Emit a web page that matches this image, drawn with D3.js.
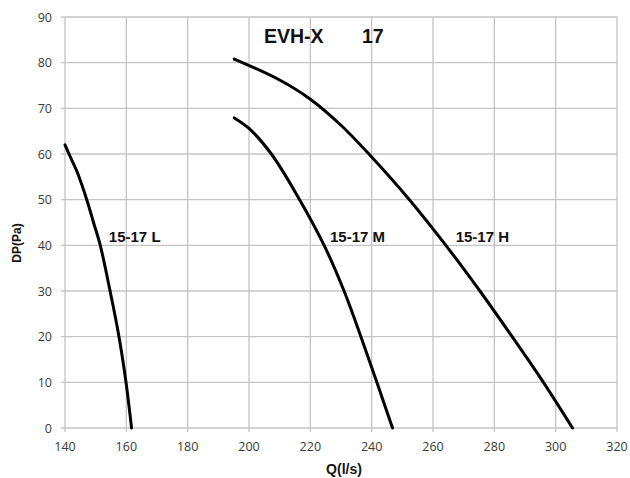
<!DOCTYPE html>
<html>
<head>
<meta charset="utf-8">
<script src="https://cdn.jsdelivr.net/npm/d3@7"></script>
<style>
  body { margin: 0; background: #fff; }
  svg text { font-family: "Liberation Sans", Arial, sans-serif; }
</style>
</head>
<body>
<div id="viz"></div>
<script>
var width = 630;
var height = 478;

var margin = { left: 65, right: 13, top: 17, bottom: 50 };

// data
var xTicks = [140, 160, 180, 200, 220, 240, 260, 280, 300, 320];
var yTicks = [0, 10, 20, 30, 40, 50, 60, 70, 80, 90];

var curveL = [[140, 62], [141.3, 60], [144, 56], [147.1, 50], [149.3, 45], [151.5, 40],
  [154.7, 30], [157.6, 20], [159.9, 10], [161.7, 0]];
var curveM = [[195.2, 67.9], [200, 65.6], [207.3, 60], [216.5, 50], [224.5, 40],
  [231, 30], [236.5, 20], [241.7, 10], [246.8, 0]];
var curveH = [[195.2, 80.8], [210, 76.2], [220, 72], [230, 66.3], [239.1, 60],
  [252.3, 50], [264.2, 40], [275.3, 30], [285.8, 20], [296, 10], [305.5, 0]];

var labels = [
  { text: '15-17 L', q: 154.3, p: 40.8 },
  { text: '15-17 M', q: 226.4, p: 40.8 },
  { text: '15-17 H', q: 267.4, p: 40.8 }
];

var x = d3.scaleLinear().domain([140, 320]).range([margin.left, width - margin.right]);
var y = d3.scaleLinear().domain([0, 90]).range([height - margin.bottom, margin.top]);

var svg = d3.select('#viz').append('svg')
  .attr('width', width)
  .attr('height', height);

// grid
svg.append('g')
  .selectAll('line')
  .data(xTicks).enter()
  .append('line')
  .attr('x1', function (d) { return x(d); })
  .attr('x2', function (d) { return x(d); })
  .attr('y1', y(0) + 4)
  .attr('y2', y(90))
  .style('stroke', '#c4c4c4')
  .style('stroke-width', 1.3);

svg.append('g')
  .selectAll('line')
  .data(yTicks).enter()
  .append('line')
  .attr('x1', x(140) - 4)
  .attr('x2', x(320))
  .attr('y1', function (d) { return y(d); })
  .attr('y2', function (d) { return y(d); })
  .style('stroke', '#c4c4c4')
  .style('stroke-width', 1.3);

// tick labels
svg.append('g')
  .selectAll('text')
  .data(xTicks).enter()
  .append('text')
  .attr('x', function (d) { return x(d); })
  .attr('y', y(0) + 23)
  .attr('text-anchor', 'middle')
  .style('font-family', '"Open Sans", sans-serif')
  .style('font-size', '12.5px')
  .style('fill', '#3a3a3a')
  .text(function (d) { return d; });

svg.append('g')
  .selectAll('text')
  .data(yTicks).enter()
  .append('text')
  .attr('x', x(140) - 13)
  .attr('y', function (d) { return y(d) + 4.5; })
  .attr('text-anchor', 'end')
  .style('font-family', '"Open Sans", sans-serif')
  .style('font-size', '12.5px')
  .style('fill', '#3a3a3a')
  .text(function (d) { return d; });

// curves
var line = d3.line()
  .x(function (d) { return x(d[0]); })
  .y(function (d) { return y(d[1]); })
  .curve(d3.curveCatmullRom.alpha(0.5));

[curveL, curveM, curveH].forEach(function (c) {
  svg.append('path')
    .datum(c)
    .attr('d', line)
    .style('fill', 'none')
    .style('stroke', '#000')
    .style('stroke-width', 3)
    .style('stroke-linecap', 'round');
});

svg.append('g')
  .selectAll('text')
  .data(labels).enter()
  .append('text')
  .attr('x', function (d) { return x(d.q); })
  .attr('y', function (d) { return y(d.p); })
  .style('font-size', '15px')
  .style('font-weight', 'bold')
  .style('fill', '#111')
  .text(function (d) { return d.text; });

// title
svg.append('text')
  .attr('x', 264)
  .attr('y', 43)
  .style('font-size', '19.5px')
  .style('font-weight', 'bold')
  .style('fill', '#111')
  .text('EVH-X');

svg.append('text')
  .attr('x', 362)
  .attr('y', 43)
  .style('font-size', '19.5px')
  .style('font-weight', 'bold')
  .style('fill', '#111')
  .text('17');

// axis titles
svg.append('text')
  .attr('x', 344)
  .attr('y', 474)
  .attr('text-anchor', 'middle')
  .style('font-size', '14px')
  .style('font-weight', 'bold')
  .style('fill', '#111')
  .text('Q(l/s)');

svg.append('text')
  .attr('transform', 'translate(21,243) rotate(-90)')
  .attr('text-anchor', 'middle')
  .style('font-size', '12px')
  .style('font-weight', 'bold')
  .style('fill', '#111')
  .text('DP(Pa)');
</script>
</body>
</html>
